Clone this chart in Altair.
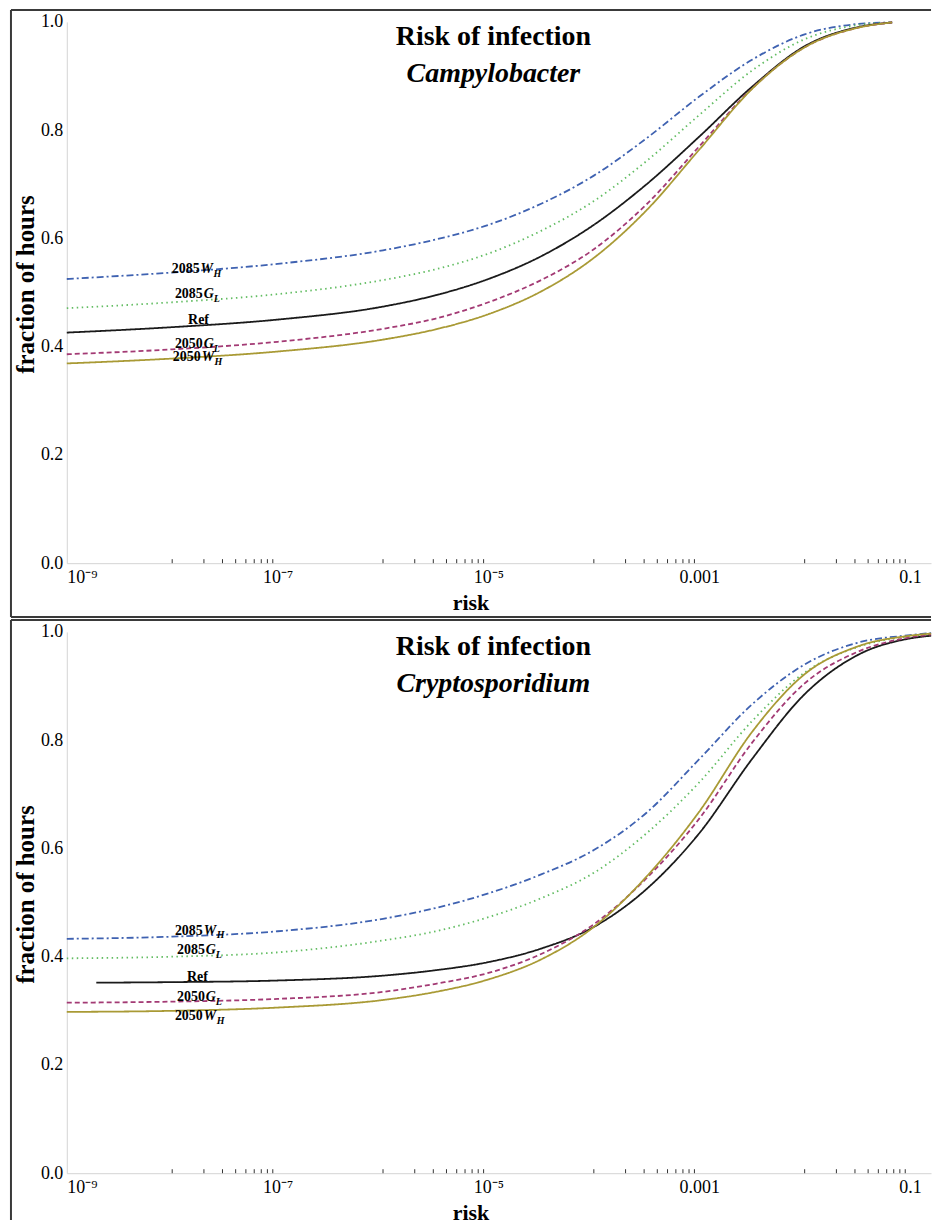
import altair as alt
import pandas as pd

FONT = "Liberation Serif"

SERIES = ["2085WH", "2085GL", "Ref", "2050GL", "2050WH"]
COLORS = ["#3f62b1", "#63bd63", "#1a1a1a", "#a33a74", "#a99a35"]
DASHES = [[7, 3, 2, 3], [1.5, 3.5], [1, 0], [5, 3], [1, 0]]
WIDTHS = [1.8, 1.8, 0.9, 1.8, 2.6]

# ---- Campylobacter (top) : log10(risk) grid and fractions of hours
CAMPY_LOGX = [-9, -8, -7, -6, -5.5, -5, -4.5, -4, -3.5, -3, -2.5, -2, -1.5, -1.17]
CAMPY_2085WH = [0.525, 0.537, 0.553, 0.578, 0.598, 0.625, 0.664, 0.716, 0.785, 0.862, 0.930, 0.977, 0.996, 0.999]
CAMPY_2085GL = [0.471, 0.482, 0.497, 0.523, 0.543, 0.572, 0.614, 0.669, 0.743, 0.828, 0.910, 0.968, 0.994, 0.999]
CAMPY_REF = [0.426, 0.436, 0.450, 0.474, 0.495, 0.525, 0.567, 0.625, 0.700, 0.788, 0.880, 0.955, 0.990, 0.999]
CAMPY_2050GL = [0.386, 0.395, 0.409, 0.433, 0.452, 0.482, 0.523, 0.580, 0.663, 0.770, 0.877, 0.953, 0.989, 0.999]
CAMPY_2050WH = [0.369, 0.378, 0.391, 0.413, 0.432, 0.460, 0.502, 0.564, 0.652, 0.764, 0.876, 0.953, 0.989, 0.999]

# ---- Cryptosporidium (bottom)
CRYPTO_LOGX = [-9, -8, -7, -6, -5.5, -5, -4.5, -4, -3.5, -3, -2.5, -2, -1.5, -1, -0.8]
CRYPTO_REF_LOGX = [-8.72, -8, -7, -6, -5.5, -5, -4.5, -4, -3.5, -3, -2.5, -2, -1.5, -1, -0.8]
CRYPTO_2085WH = [0.433, 0.437, 0.447, 0.470, 0.490, 0.517, 0.552, 0.597, 0.666, 0.765, 0.866, 0.940, 0.980, 0.994, 0.998]
CRYPTO_2085GL = [0.397, 0.400, 0.408, 0.430, 0.447, 0.473, 0.508, 0.555, 0.628, 0.722, 0.835, 0.925, 0.972, 0.992, 0.996]
CRYPTO_REF = [0.352, 0.353, 0.356, 0.365, 0.375, 0.390, 0.415, 0.455, 0.525, 0.628, 0.765, 0.885, 0.957, 0.988, 0.993]
CRYPTO_2050GL = [0.315, 0.317, 0.322, 0.335, 0.350, 0.370, 0.405, 0.460, 0.545, 0.655, 0.795, 0.905, 0.963, 0.990, 0.995]
CRYPTO_2050WH = [0.298, 0.300, 0.306, 0.320, 0.335, 0.358, 0.395, 0.455, 0.548, 0.668, 0.815, 0.922, 0.973, 0.993, 0.997]

# ---- curve labels (log10 risk of label anchor, fraction)
LABEL_SERIES = ["2085WH", "2085GL", "2050GL", "2050WH"]
CAMPY_LABEL_LOGX = [-7.74, -7.71, -7.71, -7.73]
CAMPY_LABEL_Y = [0.536, 0.490, 0.398, 0.374]
CAMPY_REF_LABEL = [-7.75, 0.441]
CRYPTO_LABEL_LOGX = [-7.71, -7.69, -7.69, -7.71]
CRYPTO_LABEL_Y = [0.441, 0.405, 0.318, 0.283]
CRYPTO_REF_LABEL = [-7.76, 0.356]

# ---- axes
X_TICK_VALUES = [1e-9, 1e-7, 1e-5, 1e-3, 0.1]
Y_TICK_VALUES = [0.0, 0.2, 0.4, 0.6, 0.8, 1.0]
MINOR_DECADES = [-8, -6, -4, -2]
MINOR_MULTS = [1, 2, 3, 4, 5, 6, 7, 8, 9]
XMIN, XMAX = 1e-9, 0.158

W, H = 867, 543


def make_panel(logx, series_vals, ref_logx, lab_logx, lab_y, ref_lab, subtitle, last):
    rows = []
    for s, vals in zip(SERIES, series_vals):
        xs = ref_logx if s == "Ref" else logx
        for lx, v in zip(xs, vals):
            rows.append({"risk": 10 ** lx, "value": v, "series": s})
    df = pd.DataFrame(rows)

    X = alt.X(
        "risk:Q",
        scale=alt.Scale(type="log", domain=[XMIN, XMAX], nice=False),
        axis=alt.Axis(
            values=X_TICK_VALUES,
            labelExpr="datum.value < 0.0005 ? '10' + (datum.value < 5e-9 ? '⁻⁹' : datum.value < 5e-7 ? '⁻⁷' : '⁻⁵') : datum.value < 0.005 ? '0.001' : '0.1'",
            ticks=False, tickSize=0, grid=False,
            domainColor="#d4d4d4", domainWidth=1,
            labelFont=FONT, labelFontSize=18, labelColor="#000",
            labelBaseline="alphabetic", labelPadding=19,
            title="risk", titleFont=FONT, titleFontSize=22, titleFontWeight="bold",
            titleColor="#000", titleX=405, titleY=46, titleBaseline="alphabetic",
            titleAlign="center",
        ),
    )
    Y = alt.Y(
        "value:Q",
        scale=alt.Scale(domain=[0, 1], nice=False, zero=False),
        axis=alt.Axis(
            values=Y_TICK_VALUES, format=".1f",
            ticks=False, tickSize=0, grid=False,
            domainColor="#d4d4d4", domainWidth=1,
            labelFont=FONT, labelFontSize=18, labelColor="#000", labelPadding=4,
            title="fraction of hours", titleFont=FONT, titleFontSize=25,
            titleFontWeight="bold", titleColor="#000", titleX=-33, titleY=263,
            titleBaseline="alphabetic", titleAngle=270, titleAlign="center",
        ),
    )

    lines = alt.Chart(df).mark_line(interpolate="monotone").encode(
        x=X, y=Y,
        color=alt.Color("series:N", scale=alt.Scale(domain=SERIES, range=COLORS), legend=None),
        strokeDash=alt.StrokeDash("series:N", scale=alt.Scale(domain=SERIES, range=DASHES), legend=None),
        strokeWidth=alt.StrokeWidth("series:N", scale=alt.Scale(domain=SERIES, range=WIDTHS), legend=None),
        detail="series:N",
    )

    tick_df = pd.DataFrame({"risk": [m * 10 ** d for d in MINOR_DECADES for m in MINOR_MULTS]})
    ticks = alt.Chart(tick_df).mark_rule(color="#333", strokeWidth=1).encode(
        x=X, y=alt.value(H), y2=alt.value(H - 4)
    )

    lab_df = pd.DataFrame({
        "risk": [10 ** v for v in lab_logx],
        "value": lab_y,
        "year": [s[:4] for s in LABEL_SERIES],
        "letter": [s[4] for s in LABEL_SERIES],
        "sub": [s[5] for s in LABEL_SERIES],
    })
    tstyle = dict(font=FONT, fontWeight="bold", baseline="alphabetic", color="#000")
    lab_base = alt.Chart(lab_df)
    year_t = lab_base.mark_text(align="right", fontSize=14, **tstyle).encode(x=X, y=Y, text="year:N")
    letter_t = lab_base.mark_text(align="left", fontSize=14, fontStyle="italic", dx=1, **tstyle).encode(
        x=X, y=Y, text="letter:N")
    sub_w = lab_base.transform_filter("datum.letter == 'W'").mark_text(
        align="left", fontSize=10, fontStyle="italic", dx=14, dy=4, **tstyle).encode(x=X, y=Y, text="sub:N")
    sub_g = lab_base.transform_filter("datum.letter == 'G'").mark_text(
        align="left", fontSize=10, fontStyle="italic", dx=11, dy=4, **tstyle).encode(x=X, y=Y, text="sub:N")
    ref_df = pd.DataFrame({"risk": [10 ** ref_lab[0]], "value": [ref_lab[1]], "name": ["Ref"]})
    ref_t = alt.Chart(ref_df).mark_text(align="center", fontSize=14, **tstyle).encode(x=X, y=Y, text="name:N")

    one = pd.DataFrame({"k": [0]})
    title1 = alt.Chart(one).mark_text(
        text="Risk of infection", font=FONT, fontSize=28, fontWeight="bold", align="center",
        baseline="alphabetic", color="#000").encode(x=alt.value(428), y=alt.value(23))
    title2 = alt.Chart(one).mark_text(
        text=subtitle, font=FONT, fontSize=28, fontWeight="bold", fontStyle="italic", align="center",
        baseline="alphabetic", color="#000").encode(x=alt.value(428), y=alt.value(60))

    fstyle = dict(color="#3a3a3a", strokeWidth=2)
    f_left = alt.Chart(one).mark_rule(**fstyle).encode(
        x=alt.value(-56), y=alt.value(-12), y2=alt.value(590 if last else 597))
    f_top = alt.Chart(one).mark_rule(**fstyle).encode(
        x=alt.value(-56), x2=alt.value(W), y=alt.value(-12))
    layers = [lines, ticks, year_t, letter_t, sub_w, sub_g, ref_t, title1, title2, f_left, f_top]
    if not last:
        f_bot = alt.Chart(one).mark_rule(**fstyle).encode(
            x=alt.value(-56), x2=alt.value(W), y=alt.value(597))
        layers.append(f_bot)
    return alt.layer(*layers).properties(width=W, height=H)


top = make_panel(
    CAMPY_LOGX,
    [CAMPY_2085WH, CAMPY_2085GL, CAMPY_REF, CAMPY_2050GL, CAMPY_2050WH],
    CAMPY_LOGX, CAMPY_LABEL_LOGX, CAMPY_LABEL_Y, CAMPY_REF_LABEL, "Campylobacter", False,
)
bottom = make_panel(
    CRYPTO_LOGX,
    [CRYPTO_2085WH, CRYPTO_2085GL, CRYPTO_REF, CRYPTO_2050GL, CRYPTO_2050WH],
    CRYPTO_REF_LOGX, CRYPTO_LABEL_LOGX, CRYPTO_LABEL_Y, CRYPTO_REF_LABEL, "Cryptosporidium", True,
)

chart = alt.VConcatChart(vconcat=[top, bottom], spacing=69, bounds="flush").properties(
    padding={"left": 10, "top": 7, "right": 0, "bottom": 0},
    background="white",
).configure_view(stroke=None)

chart.save("out.html", embed_options={"renderer": "svg", "actions": False})
